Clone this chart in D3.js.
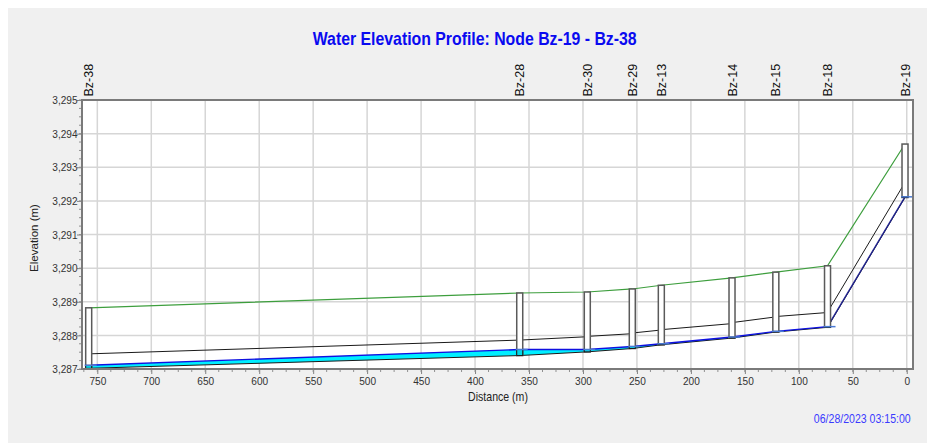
<!DOCTYPE html>
<html>
<head>
<meta charset="utf-8">
<script src="https://cdn.jsdelivr.net/npm/d3@7"></script>
<style>
  body{margin:0;background:#fff;}
  text{font-family:"Liberation Sans",Arial,sans-serif;}
</style>
</head>
<body>
<div class="canvas"></div>
<script>
// node data, listed left to right (distance measured from Bz-19)
const nodes=['Bz-38','Bz-28','Bz-30','Bz-29','Bz-13','Bz-14','Bz-15','Bz-18','Bz-19'];
const distance=[758,358.6,296,254.3,227.4,161.9,121.3,73.4,1.6];
const rimElev=[3288.82,3289.26,3289.29,3289.38,3289.49,3289.71,3289.88,3290.07,3293.69];
const invertElev=[3287.02,3287.40,3287.51,3287.61,3287.72,3287.92,3288.10,3288.24,3292.10];
const waterElev=[3287.11,3287.58,3287.58,3287.67,3287.75,3287.95,3288.12,3288.26,3292.12];
// conduit crowns at left and right ends (one per link between neighbours)
const crownLeft=[3287.45,3287.86,3287.97,3288.07,3288.17,3288.38,3288.56,3288.69];
const crownRight=[3287.86,3287.96,3288.05,3288.16,3288.35,3288.55,3288.68,3292.55];
// tick values
const xTicks=d3.range(0,751,50);
const xMinor=d3.range(0,764,12.5);
const yTicks=d3.range(3287,3296,1);
const yMinor=d3.range(3287,3295.01,0.25);

const titleText='Water Elevation Profile: Node Bz-19 - Bz-38';
const dateText='06/28/2023 03:15:00';
const squeeze=0.88;

const plot={left:82,right:913,top:100,bottom:369};

const svg=d3.select('.canvas')
      .append('svg')
      .attr('width',927)
      .attr('height',443);

//grey panel
svg.append('rect')
   .attr('x',8).attr('y',8)
   .attr('width',919).attr('height',435)
   .attr('fill','#f0f0f0');

const x=d3.scaleLinear().domain([764.2,-5.8]).range([plot.left,plot.right]);
const y=d3.scaleLinear().domain([3287,3295]).range([plot.bottom,plot.top]);

//plot background
svg.append('rect')
   .attr('x',plot.left).attr('y',plot.top)
   .attr('width',plot.right-plot.left).attr('height',plot.bottom-plot.top)
   .attr('fill','#fff');

//gridlines
const grid=svg.append('g').attr('stroke','#d6d6d6').attr('stroke-width',1.5);
grid.selectAll('line.v').data(xTicks).enter().append('line')
    .attr('x1',d=>x(d)).attr('x2',d=>x(d))
    .attr('y1',plot.top).attr('y2',plot.bottom);
grid.selectAll('line.h').data(yTicks).enter().append('line')
    .attr('x1',plot.left).attr('x2',plot.right)
    .attr('y1',d=>y(d)).attr('y2',d=>y(d));

//links between neighbouring nodes
const links=d3.range(nodes.length-1).map(i=>({
    x0:distance[i],x1:distance[i+1],
    inv0:invertElev[i],inv1:invertElev[i+1],
    wat0:waterElev[i],wat1:waterElev[i+1],
    crown0:crownLeft[i],crown1:crownRight[i]
}));

const graph=svg.append('g');

//water in conduits
graph.selectAll('path.water').data(links).enter().append('path')
     .attr('d',d=>`M${x(d.x0)},${y(d.inv0)}L${x(d.x1)},${y(d.inv1)}L${x(d.x1)},${y(d.wat1)}L${x(d.x0)},${y(d.wat0)}Z`)
     .attr('fill','#00eeff');

//conduit invert and crown
const seg=(a,b)=>d3.line()([[x(a[0]),y(a[1])],[x(b[0]),y(b[1])]]);
graph.selectAll('path.inv').data(links).enter().append('path')
     .attr('d',d=>seg([d.x0,d.inv0],[d.x1,d.inv1]))
     .attr('stroke','#1a1a1a').attr('fill','none');
graph.selectAll('path.crown').data(links).enter().append('path')
     .attr('d',d=>seg([d.x0,d.crown0],[d.x1,d.crown1]))
     .attr('stroke','#1a1a1a').attr('fill','none');

//water surface line (darker on the steep last reach, where it lies on the invert)
graph.selectAll('path.surface').data(links).enter().append('path')
     .attr('d',d=>seg([d.x0,d.wat0],[d.x1,d.wat1]))
     .attr('stroke',(d,i)=>i===links.length-1?'#23238f':'#1010e0')
     .attr('stroke-width',1.4).attr('fill','none');

//ground / rim line
graph.append('path')
     .datum(nodes.map((n,i)=>[distance[i],rimElev[i]]))
     .attr('d',d3.line().x(d=>x(d[0])).y(d=>y(d[1])))
     .attr('stroke','#3d9e3d').attr('stroke-width',1.2).attr('fill','none');

//node boxes
const nodeG=graph.selectAll('g.node').data(nodes).enter().append('g');
nodeG.append('rect')
     .attr('x',(d,i)=>x(distance[i])-3)
     .attr('y',(d,i)=>y(rimElev[i]))
     .attr('width',6)
     .attr('height',(d,i)=>y(invertElev[i])-y(rimElev[i]))
     .attr('fill','#fff').attr('stroke','#5a5a5a').attr('stroke-width',1.5);
nodeG.append('rect')
     .attr('x',(d,i)=>x(distance[i])-3)
     .attr('y',(d,i)=>y(waterElev[i]))
     .attr('width',6)
     .attr('height',(d,i)=>y(invertElev[i])-y(waterElev[i]))
     .attr('fill','#00d8e8').attr('stroke','#1a1a1a').attr('stroke-width',1);
nodeG.append('line')
     .attr('x1',(d,i)=>x(distance[i])-4).attr('x2',(d,i)=>x(distance[i])+8)
     .attr('y1',(d,i)=>y(waterElev[i])).attr('y2',(d,i)=>y(waterElev[i]))
     .attr('stroke','#4a7ad4').attr('stroke-width',1.5);

//node labels on top
svg.selectAll('text.node').data(nodes).enter().append('text')
   .attr('transform',(d,i)=>`translate(${x(distance[i])+4.5},96.5) rotate(-90)`)
   .attr('font-size',12.5).attr('fill','#111')
   .text(d=>d);

//axes
const xAxis=svg.append('g')
      .attr('transform',`translate(0,${plot.bottom})`)
      .call(d3.axisBottom(x).tickValues(xTicks).tickFormat(d3.format('d')).tickSize(5).tickPadding(3));
const yAxis=svg.append('g')
      .attr('transform',`translate(${plot.left},0)`)
      .call(d3.axisLeft(y).tickValues(yTicks).tickFormat(d3.format(',')).tickSize(5).tickPadding(0));
[xAxis,yAxis].forEach(a=>{
    a.select('.domain').remove();
    a.selectAll('line').attr('stroke','#808080');
    a.selectAll('text')
     .attr('font-family','"Liberation Sans",Arial,sans-serif')
     .attr('font-size',11.5).attr('fill','#333')
     .attr('transform',`scale(${squeeze},1)`);
});

//minor ticks
svg.append('g').attr('stroke','#909090')
   .selectAll('line').data(xMinor).enter().append('line')
   .attr('x1',d=>x(d)).attr('x2',d=>x(d))
   .attr('y1',plot.bottom).attr('y2',plot.bottom+3);
svg.append('g').attr('stroke','#909090')
   .selectAll('line').data(yMinor).enter().append('line')
   .attr('x1',plot.left-3).attr('x2',plot.left)
   .attr('y1',d=>y(d)).attr('y2',d=>y(d));

//plot frame
svg.append('rect')
   .attr('x',plot.left).attr('y',plot.top)
   .attr('width',plot.right-plot.left).attr('height',plot.bottom-plot.top)
   .attr('fill','none').attr('stroke','#7a7a7a').attr('stroke-width',2);

//texts (squeezed horizontally like the original)
const addText=(str,tx,ty,opts)=>svg.append('text')
      .attr('transform',`translate(${tx},${ty}) scale(${squeeze},1)`)
      .attr('text-anchor',opts.anchor||'middle')
      .attr('font-size',opts.size)
      .attr('font-weight',opts.weight||'normal')
      .attr('fill',opts.fill)
      .text(str);

addText(titleText,474.7,45,{size:18,weight:'bold',fill:'#0a0af0'});
addText('Distance (m)',498,401,{size:12,fill:'#222'});
addText(dateText,910.7,423,{size:12,anchor:'end',fill:'#3a3aff'});

svg.append('text')
   .attr('transform','translate(37.5,238) rotate(-90)')
   .attr('text-anchor','middle')
   .attr('font-size',11.5).attr('fill','#222')
   .text('Elevation (m)');
</script>
</body>
</html>
